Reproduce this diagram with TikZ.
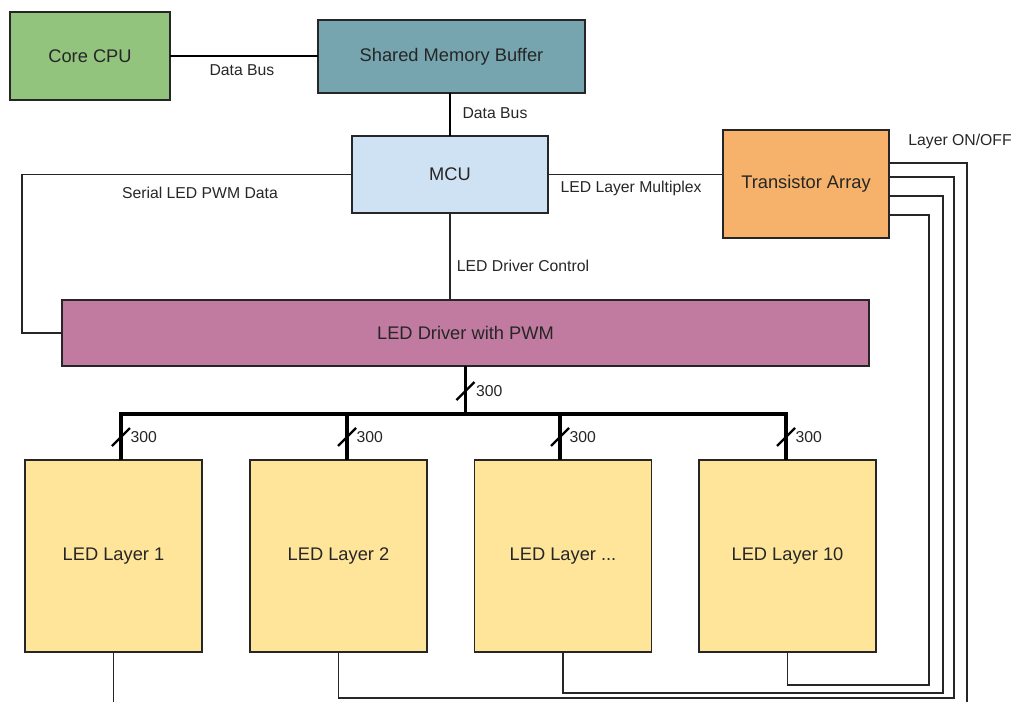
\documentclass[tikz,border=0pt]{standalone}
\usepackage{fontspec}
\setmainfont{Liberation Sans}
\usepackage{xcolor}
\usetikzlibrary{calc}

\definecolor{cpugreen}{HTML}{93C47D}
\definecolor{memteal}{HTML}{76A5AF}
\definecolor{mcublue}{HTML}{CFE2F3}
\definecolor{taorange}{HTML}{F6B26B}
\definecolor{drvpink}{HTML}{C27BA0}
\definecolor{layeryellow}{HTML}{FFE599}

\begin{document}
\begin{tikzpicture}[x=0.025cm,y=-0.025cm,
  block/.style={draw=black!85,line width=1.1pt,rectangle,inner sep=0pt,outer sep=0pt,
    align=center,font=\fontsize{13}{15}\selectfont,text=black!85},
  wire/.style={draw=black!85,line width=1.4pt},
  databus/.style={draw=black,line width=2.1pt},
  bus/.style={draw=black,line width=2.6pt},
  slash/.style={draw=black,line width=1.6pt},
  lbl/.style={font=\fontsize{11.2}{13}\selectfont,text=black!85,inner sep=1pt}
  ]
\useasboundingbox (0,0) rectangle (1013,702);

% Top row
\node[block,fill=cpugreen,minimum width=4cm,minimum height=2.2cm] (cpu) at (90,56)
  {Core CPU};
\node[block,fill=memteal,minimum width=6.675cm,minimum height=1.825cm] (smb) at (451.5,56.5)
  {Shared Memory Buffer};

% Controller and transistors
\node[block,fill=mcublue,minimum width=4.9cm,minimum height=1.925cm] (mcu) at (450,174.5)
  {MCU};
\node[block,fill=taorange,minimum width=4.15cm,minimum height=2.7cm] (ta) at (806,184)
  {Transistor Array};

% Driver
\node[block,fill=drvpink,minimum width=20.175cm,minimum height=1.65cm] (drv) at (465.5,333)
  {LED Driver with PWM};

% LED layers
\node[block,fill=layeryellow,minimum width=4.425cm,minimum height=4.8cm] (L1) at (113.5,556)
  {LED Layer 1};
\node[block,fill=layeryellow,minimum width=4.425cm,minimum height=4.8cm] (L2) at (338.5,556)
  {LED Layer 2};
\node[block,fill=layeryellow,minimum width=4.425cm,minimum height=4.8cm] (L3) at (563,556)
  {LED Layer ...};
\node[block,fill=layeryellow,minimum width=4.425cm,minimum height=4.8cm] (L4) at (787.5,556)
  {LED Layer 10};

% Data buses
\draw[databus] (cpu.east) -- (cpu.east -| smb.west);
\node[lbl] (dbA) at (242,70) {Data Bus};
\draw[databus] (mcu.north |- smb.south) -- (mcu.north);
\node[lbl] (dbB) at (495,113) {Data Bus};

% MCU outputs
\draw[wire] (mcu.west) -| ($(drv.west)+(-40,0)$) -- (drv.west);
\node[lbl] (serial) at (200,193) {Serial LED PWM Data};
\draw[wire] (mcu.east) -- (mcu.east -| ta.west);
\node[lbl] (mux) at (631,188) {LED Layer Multiplex};
\draw[wire] (mcu.south) -- (mcu.south |- drv.north);
\node[lbl] (ctrl) at (523,266) {LED Driver Control};
\node[lbl] (onoff) at (960,141) {Layer ON/OFF};

% 300-line bus to the layers
\coordinate (tap1) at (121,414);
\coordinate (tap2) at (347,414);
\coordinate (tap3) at (560,414);
\coordinate (tap4) at (786,414);
\draw[bus] (drv.south) -- (drv.south |- tap1);
\draw[bus] ([xshift=-1.3pt]tap1) -- ([xshift=1.3pt]tap4);
\draw[slash] ($(drv.south)+(-9,34)$) -- ++(18,-18);
\node[lbl,anchor=west] (w0) at ($(drv.south)+(9,25)$) {300};

\draw[bus] (tap1) -- (tap1 |- L1.north);
\draw[bus] (tap2) -- (tap2 |- L2.north);
\draw[bus] (tap3) -- (tap3 |- L3.north);
\draw[bus] (tap4) -- (tap4 |- L4.north);
\draw[slash] ($(tap1)+(-9,32)$) -- ++(18,-18);
\draw[slash] ($(tap2)+(-9,32)$) -- ++(18,-18);
\draw[slash] ($(tap3)+(-9,32)$) -- ++(18,-18);
\draw[slash] ($(tap4)+(-9,32)$) -- ++(18,-18);
\node[lbl,anchor=west] (w1) at ($(tap1)+(8,23)$) {300};
\node[lbl,anchor=west] (w2) at ($(tap2)+(8,23)$) {300};
\node[lbl,anchor=west] (w3) at ($(tap3)+(8,23)$) {300};
\node[lbl,anchor=west] (w4) at ($(tap4)+(8,23)$) {300};

% Layer ON/OFF return wires
\coordinate (endR) at (967,702);
\coordinate (endL) at (113.5,702);
\draw[wire] ($(ta.east)+(0,-21)$) -| (endR);
\draw[wire] (L2.south) -- ++(0,46) -| ($(ta.east)+(65,-7)$) -- ($(ta.east)+(0,-7)$);
\draw[wire] (L3.south) -- ++(0,41) -| ($(ta.east)+(54,12)$) -- ($(ta.east)+(0,12)$);
\draw[wire] (L4.south) -- ++(0,33) -| ($(ta.east)+(40,31)$) -- ($(ta.east)+(0,31)$);
\draw[wire] (L1.south) -- (endL);

\end{tikzpicture}
\end{document}
